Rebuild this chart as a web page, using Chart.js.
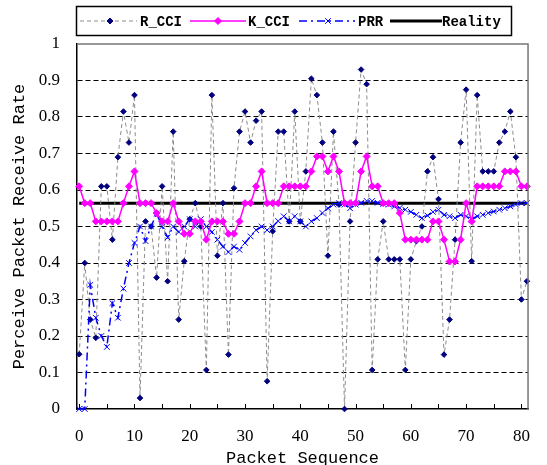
<!DOCTYPE html>
<html>
<head>
<meta charset="utf-8">
<script src="https://cdn.jsdelivr.net/npm/chart.js@4.4.0/dist/chart.umd.min.js"></script>
<style>
  html, body { margin: 0; padding: 0; background: #fff; }
</style>
</head>
<body>
<canvas id="prr" width="547" height="465"></canvas>
<script>
// packet index on the x axis
var packets = [0, 1, 2, 3, 4, 5, 6, 7, 8, 9, 10, 11, 12, 13, 14, 15, 16, 17, 18, 19, 20,
  21, 22, 23, 24, 25, 26, 27, 28, 29, 30, 31, 32, 33, 34, 35, 36, 37, 38, 39, 40,
  41, 42, 43, 44, 45, 46, 47, 48, 49, 50, 51, 52, 53, 54, 55, 56, 57, 58, 59, 60,
  61, 62, 63, 64, 65, 66, 67, 68, 69, 70, 71, 72, 73, 74, 75, 76, 77, 78, 79, 80, 81];

var rCci = [0.15, 0.40, 0.245, 0.195, 0.61, 0.61, 0.464, 0.69, 0.815, 0.73, 0.86,
  0.03, 0.514, 0.50, 0.36, 0.61, 0.35, 0.76, 0.245, 0.405, 0.52,
  0.564, 0.50, 0.107, 0.86, 0.42, 0.564, 0.149, 0.605, 0.76, 0.815,
  0.73, 0.79, 0.815, 0.076, 0.487, 0.76, 0.76, 0.514, 0.815, 0.514,
  0.651, 0.905, 0.86, 0.73, 0.42, 0.76, 0.56, 0.0, 0.514, 0.73,
  0.93, 0.89, 0.107, 0.41, 0.514, 0.41, 0.41, 0.41, 0.107, 0.41,
  0.46, 0.5, 0.651, 0.69, 0.575, 0.149, 0.245, 0.464, 0.73, 0.875,
  0.405, 0.86, 0.651, 0.651, 0.651, 0.73, 0.76, 0.815, 0.69, 0.30, 0.35];

var kCci = [0.61, 0.564, 0.564, 0.514, 0.514, 0.514, 0.514, 0.514, 0.564, 0.61, 0.651,
  0.564, 0.564, 0.564, 0.537, 0.514, 0.514, 0.564, 0.514, 0.48, 0.48,
  0.514, 0.514, 0.464, 0.514, 0.514, 0.514, 0.48, 0.48, 0.514, 0.564,
  0.564, 0.61, 0.651, 0.564, 0.564, 0.564, 0.61, 0.61, 0.61, 0.61,
  0.61, 0.651, 0.692, 0.692, 0.651, 0.692, 0.651, 0.564, 0.564, 0.564,
  0.651, 0.692, 0.61, 0.61, 0.564, 0.564, 0.564, 0.537, 0.464, 0.464,
  0.464, 0.464, 0.464, 0.514, 0.514, 0.464, 0.404, 0.404, 0.464, 0.564,
  0.514, 0.61, 0.61, 0.61, 0.61, 0.61, 0.651, 0.651, 0.651, 0.61, 0.61];

var prr = [0, 0, 0.34, 0.25, 0.2, 0.17, 0.29, 0.25, 0.33, 0.4, 0.455,
  0.5, 0.46, 0.5, 0.535, 0.5, 0.47, 0.5, 0.485, 0.5, 0.52,
  0.5, 0.52, 0.5, 0.485, 0.464, 0.445, 0.43, 0.445, 0.436, 0.455,
  0.473, 0.49, 0.5, 0.49, 0.5, 0.515, 0.528, 0.514, 0.528, 0.514,
  0.5, 0.514, 0.523, 0.537, 0.55, 0.56, 0.564, 0.56, 0.55, 0.56,
  0.565, 0.57, 0.57, 0.565, 0.562, 0.56, 0.555, 0.551, 0.546, 0.54,
  0.532, 0.523, 0.53, 0.54, 0.546, 0.532, 0.528, 0.523, 0.532, 0.528,
  0.519, 0.528, 0.532, 0.537, 0.541, 0.546, 0.55, 0.555, 0.56, 0.564, 0.564];

// the reality level is flat over the whole run
var realityX = [0, 81];
var reality = [0.564, 0.564];

var xTicks = [0, 10, 20, 30, 40, 50, 60, 70, 80];

function pts(xs, ys) {
  return xs.map(function (x, i) { return { x: x, y: ys[i] }; });
}

var monoFont = '"Liberation Mono", "DejaVu Sans Mono", monospace';
var numFont = '"Liberation Serif", "DejaVu Serif", serif';

// legend entries drawn by hand, line sample plus marker like the original
var legendItems = [
  { label: 'R_CCI', x0: 80, x1: 137, mx: 110, tx: 140, color: '#8c8c8c', width: 1, dash: [4, 3],
    point: { pointStyle: 'rectRot', radius: 3, fill: '#00007f', stroke: '#00007f' } },
  { label: 'K_CCI', x0: 190, x1: 246, mx: 218, tx: 248, color: '#ff00ff', width: 1.5, dash: [],
    point: { pointStyle: 'rectRot', radius: 3.5, fill: '#ff00ff', stroke: '#ff00ff' } },
  { label: 'PRR', x0: 299, x1: 355, mx: 328, tx: 358, color: '#0000ff', width: 1.5, dash: [8, 4, 2, 4],
    point: { pointStyle: 'crossRot', radius: 4, fill: '#0000ff', stroke: '#0000ff' } },
  { label: 'Reality', x0: 390, x1: 442, mx: null, tx: 442, color: '#000', width: 3, dash: [], point: null }
];

var decorations = {
  id: 'decorations',
  afterDraw: function (chart) {
    var ctx = chart.ctx, a = chart.chartArea, xs = chart.scales.x;
    ctx.save();
    // grey frame top / right
    ctx.strokeStyle = '#777';
    ctx.lineWidth = 1.5;
    ctx.setLineDash([]);
    ctx.beginPath();
    ctx.moveTo(a.left, a.top);
    ctx.lineTo(a.right, a.top);
    ctx.lineTo(a.right, a.bottom);
    ctx.stroke();
    // small inward ticks on the x axis
    ctx.strokeStyle = '#000';
    ctx.lineWidth = 1;
    for (var v = 0; v <= 80; v += 5) {
      var px = Math.round(xs.getPixelForValue(v)) + 0.5;
      ctx.beginPath();
      ctx.moveTo(px, a.bottom);
      ctx.lineTo(px, a.bottom - 5);
      ctx.stroke();
    }
    // legend box
    ctx.fillStyle = '#fff';
    ctx.fillRect(76, 6, 436, 30);
    ctx.strokeStyle = '#000';
    ctx.lineWidth = 1.5;
    ctx.strokeRect(76.5, 6.5, 435, 29);
    var ly = 21;
    ctx.font = 'bold 14px ' + monoFont;
    ctx.textBaseline = 'middle';
    ctx.textAlign = 'left';
    legendItems.forEach(function (it) {
      ctx.strokeStyle = it.color;
      ctx.lineWidth = it.width;
      ctx.setLineDash(it.dash);
      ctx.beginPath();
      ctx.moveTo(it.x0, ly);
      ctx.lineTo(it.x1, ly);
      ctx.stroke();
      ctx.setLineDash([]);
      if (it.point) {
        ctx.fillStyle = it.point.fill;
        ctx.strokeStyle = it.point.stroke;
        ctx.lineWidth = 1;
        Chart.helpers.drawPoint(ctx, { pointStyle: it.point.pointStyle, radius: it.point.radius, rotation: 0, borderWidth: 1 }, it.mx, ly);
      }
      ctx.fillStyle = '#000';
      ctx.fillText(it.label, it.tx, ly + 1);
    });
    ctx.restore();
  }
};

var ctx = document.getElementById('prr').getContext('2d');
var chart = new Chart(ctx, {
  type: 'line',
  data: {
    datasets: [{
      label: 'K_CCI',
      data: pts(packets, kCci),
      borderColor: '#ff00ff',
      backgroundColor: '#ff00ff',
      borderWidth: 1.5,
      pointStyle: 'rectRot',
      pointRadius: 3.5,
      pointBorderWidth: 1,
      order: 1
    }, {
      label: 'PRR',
      data: pts(packets, prr),
      borderColor: '#0000ff',
      backgroundColor: '#0000ff',
      borderWidth: 1.5,
      borderDash: [8, 4, 2, 4],
      pointStyle: 'crossRot',
      pointRadius: 4,
      pointBorderWidth: 1,
      order: 2
    }, {
      label: 'R_CCI',
      data: pts(packets, rCci),
      borderColor: '#8c8c8c',
      backgroundColor: '#00007f',
      pointBorderColor: '#00007f',
      borderWidth: 1,
      borderDash: [4, 3],
      pointStyle: 'rectRot',
      pointRadius: 2.8,
      pointBorderWidth: 1,
      order: 3
    }, {
      label: 'Reality',
      data: pts(realityX, reality),
      borderColor: '#000',
      borderWidth: 3,
      pointRadius: 0,
      order: 4
    }]
  },
  options: {
    responsive: false,
    animation: false,
    devicePixelRatio: 1,
    clip: false,
    layout: { padding: { top: 44, right: 7, left: 0, bottom: 0 } },
    plugins: {
      legend: { display: false },
      tooltip: { enabled: false }
    },
    elements: { line: { tension: 0 } },
    scales: {
      x: {
        type: 'linear',
        min: -0.4,
        max: 81.2,
        afterFit: function (s) { s.height = 56; },
        afterBuildTicks: function (s) { s.ticks = xTicks.map(function (v) { return { value: v }; }); },
        ticks: {
          color: '#000',
          font: { family: numFont, size: 17 },
          padding: 17,
          maxRotation: 0,
          callback: function (v) { return String(v); }
        },
        grid: { drawOnChartArea: false, drawTicks: false },
        border: { color: '#000', width: 1.5 },
        title: {
          display: true,
          text: 'Packet Sequence',
          color: '#000',
          font: { family: monoFont, size: 17, lineHeight: 1 },
          padding: { top: 0, bottom: -2 }
        }
      },
      y: {
        min: 0,
        max: 1,
        afterFit: function (s) { s.width = 77; },
        ticks: {
          stepSize: 0.1,
          color: '#000',
          font: { family: numFont, size: 17 },
          padding: 17,
          callback: function (v) { return String(+v.toFixed(1)); }
        },
        grid: {
          drawTicks: false,
          color: function (c) {
            if (!c.tick) return '#000';
            var v = +c.tick.value.toFixed(2);
            return (v === 0 || v === 1) ? 'rgba(0,0,0,0)' : '#000';
          },
          lineWidth: 1
        },
        border: { color: '#000', width: 1.5, dash: [5, 3] },
        title: {
          display: true,
          text: 'Perceive Packet Receive Rate',
          color: '#000',
          font: { family: monoFont, size: 17, lineHeight: 1 },
          padding: { top: 11, bottom: 0 }
        }
      }
    }
  },
  plugins: [decorations]
});
</script>
</body>
</html>
